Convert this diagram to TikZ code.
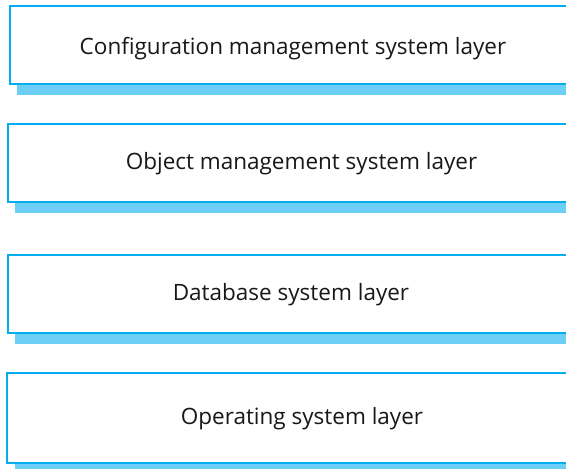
\documentclass[tikz,border=0pt]{standalone}
\usepackage{fontspec}
\setmainfont{Open Sans}
\definecolor{layerline}{HTML}{00AEEF}
\definecolor{layershadow}{HTML}{6DCFF6}
\definecolor{layertext}{HTML}{1A1718}
\begin{document}
\begin{tikzpicture}[x=1pt,y=-1pt,
  layerbox/.style={draw=layerline,line width=2pt,fill=white},
  layershade/.style={fill=layershadow,draw=none},
  layerlabel/.style={anchor=base,inner sep=0pt,text=layertext,font=\fontsize{22.5}{26}\selectfont}]
\useasboundingbox (0,0) rectangle (566,469);
\clip (0,0) rectangle (566,469);
% layer 1
\fill[layershade] (17,84) rectangle (620,95);
\draw[layerbox] (9.5,6) rectangle (620,84);
\node[layerlabel] (l1) at (293,54) {Configuration management system layer};
% layer 2
\fill[layershade] (15,202) rectangle (620,213);
\draw[layerbox] (7.5,124) rectangle (620,202);
\node[layerlabel] (l2) at (301.5,169) {Object management system layer};
% layer 3
\fill[layershade] (15,333) rectangle (620,344);
\draw[layerbox] (7.5,254.5) rectangle (620,333);
\node[layerlabel] (l3) at (291,300) {Database system layer};
% layer 4
\fill[layershade] (15,463) rectangle (620,474);
\draw[layerbox] (7,373) rectangle (620,463);
\node[layerlabel] (l4) at (302,424) {Operating system layer};
\end{tikzpicture}
\end{document}
